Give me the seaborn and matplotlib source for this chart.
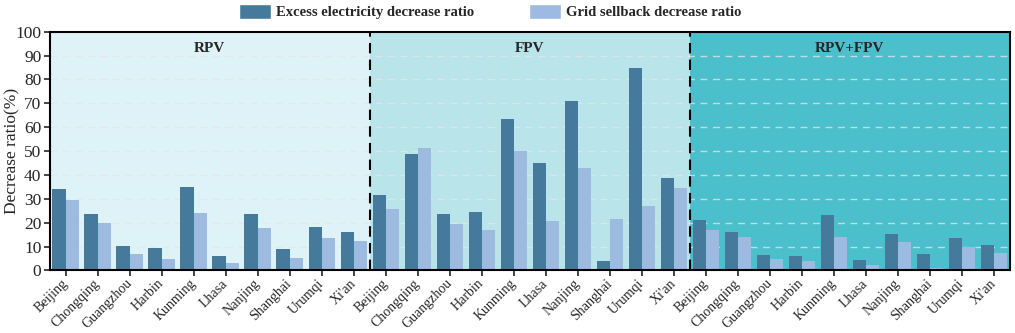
import numpy as np
import pandas as pd
import matplotlib
matplotlib.use("Agg")
import matplotlib.pyplot as plt
import matplotlib.transforms as mtransforms
import seaborn as sns
from matplotlib.patches import Patch

cities = ["Beijing", "Chongqing", "Guangzhou", "Harbin", "Kunming", "Lhasa",
          "Nanjing", "Shanghai", "Urumqi", "Xi'an"]
scenarios = ["RPV", "FPV", "RPV+FPV"]
series = ["Excess electricity decrease ratio", "Grid sellback decrease ratio"]

excess_rpv = [34.1, 23.7, 10.1, 9.5, 35.1, 6.0, 23.7, 8.9, 18.0, 15.9]
sellback_rpv = [29.5, 19.8, 6.8, 4.6, 23.9, 3.1, 17.9, 5.0, 13.5, 12.2]
excess_fpv = [31.4, 48.6, 23.7, 24.4, 63.3, 45.1, 71.1, 3.8, 84.9, 38.7]
sellback_fpv = [25.8, 51.1, 19.6, 16.8, 49.9, 20.5, 42.7, 21.4, 27.0, 34.4]
excess_both = [20.9, 15.9, 6.3, 6.0, 23.2, 4.5, 15.4, 6.7, 13.7, 10.8]
sellback_both = [17.0, 13.8, 4.9, 3.8, 14.0, 2.1, 11.9, 1.0, 9.9, 7.1]

excess = {"RPV": excess_rpv, "FPV": excess_fpv, "RPV+FPV": excess_both}
sellback = {"RPV": sellback_rpv, "FPV": sellback_fpv, "RPV+FPV": sellback_both}

rows = []
order = []
for sc in scenarios:
    for i, c in enumerate(cities):
        key = f"{sc}|{c}"
        order.append(key)
        rows.append({"key": key, "series": series[0], "value": excess[sc][i]})
        rows.append({"key": key, "series": series[1], "value": sellback[sc][i]})
df = pd.DataFrame(rows)

sns.set_style("ticks")
plt.rcParams["font.family"] = ["Liberation Serif", "DejaVu Serif"]

dark = "#467a9c"
light = "#9dbbe0"
bg_colors = ["#def3f7", "#b8e4ea", "#4cbfcd"]

fig = plt.figure(figsize=(10.15, 3.33), dpi=100)
ax = fig.add_axes([0.049, 0.188, 0.946, 0.717])

for k, col in enumerate(bg_colors):
    ax.axvspan(k * 10 - 0.5, k * 10 + 9.5, color=col, zorder=0, lw=0)

for yv in range(10, 100, 10):
    ax.axhline(yv, color="#e6e6e6", lw=1.0, ls=(0, (5, 4)), zorder=0.5, alpha=0.75)

sns.barplot(data=df, x="key", y="value", hue="series", order=order,
            hue_order=series, palette=[dark, light], width=0.83,
            saturation=1, ax=ax, legend=False, zorder=2, linewidth=0)

for xv in (9.5, 19.5):
    ax.axvline(xv, color="black", lw=1.5, ls=(0, (5, 3)), zorder=3)

ax.set_xlim(-0.5, 29.5)
ax.set_ylim(0, 100)
ax.set_yticks(range(0, 101, 10))
ax.set_xticks(range(30))
ax.set_xticklabels(cities * 3, rotation=45, ha="right", va="center",
                   rotation_mode="anchor", fontsize=10)
shift = mtransforms.ScaledTranslation(5 / 100, 0, fig.dpi_scale_trans)
for lab in ax.get_xticklabels():
    lab.set_transform(lab.get_transform() + shift)
ax.tick_params(axis="y", labelsize=12.5, direction="out", length=4, width=1.2, pad=2)
ax.tick_params(axis="x", direction="out", length=4, width=1.2, pad=4)
ax.set_xlabel("")
ax.set_ylabel("Decrease ratio(%)", fontsize=12.5)
ax.yaxis.set_label_coords(-0.031, 0.5)

for sp in ax.spines.values():
    sp.set_visible(True)
    sp.set_linewidth(1.5)
    sp.set_color("black")

for k, sc in enumerate(scenarios):
    ax.text(k * 10 + 4.5, 93, sc, ha="center", va="center", fontsize=11,
            fontweight="bold")

handles = [Patch(facecolor=dark, label=series[0]), Patch(facecolor=light, label=series[1])]
fig.legend(handles=handles, loc="center", bbox_to_anchor=(0.483, 0.965), ncol=2,
           frameon=False, prop={"weight": "bold", "size": 10.5}, handlelength=2.2,
           handleheight=1.15, columnspacing=3.8, handletextpad=0.3,
           borderaxespad=0, borderpad=0)

fig.savefig("out.png", dpi=100)
